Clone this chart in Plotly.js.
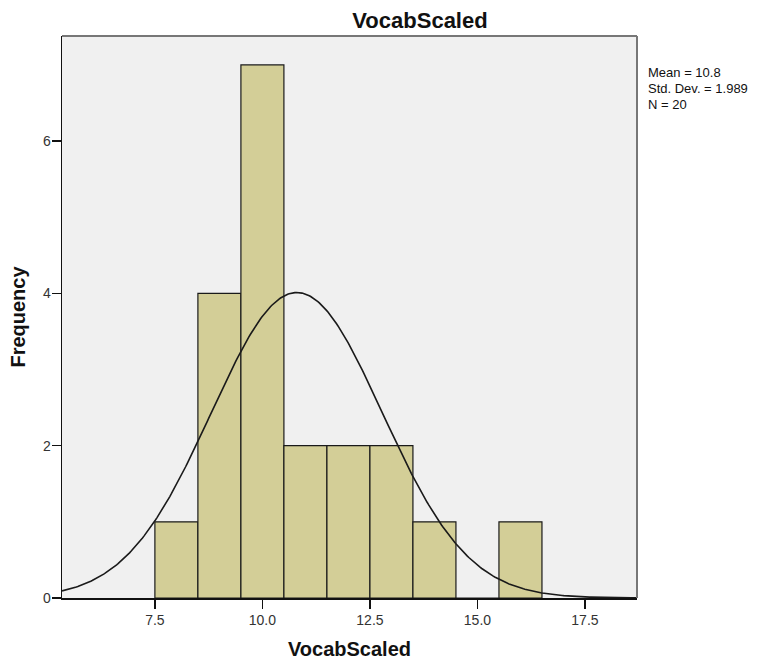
<!DOCTYPE html>
<html>
<head>
<meta charset="utf-8">
<script src="https://cdn.plot.ly/plotly-3.0.1.min.js"></script>
<style>html,body{margin:0;padding:0;background:#fff;}#chart{width:762px;height:662px;}</style>
</head>
<body>
<div id="chart"></div>
<script>
// Histogram bins (centers) and frequencies
const binCenters = [8, 9, 10, 11, 12, 13, 14, 15, 16];
const frequencies = [1, 4, 7, 2, 2, 2, 1, 0, 1];
const binWidth = 1;
// Summary statistics shown in the chart
const meanVal = 10.8;
const stdDev = 1.989;
const nVal = 20;
const statLines = ['Mean = 10.8', 'Std. Dev. = 1.989', 'N = 20'];
const xTickVals = [7.5, 10.0, 12.5, 15.0, 17.5];
const xTickText = ['7.5', '10.0', '12.5', '15.0', '17.5'];
const yTickVals = [0, 2, 4, 6];

const xRange = [5.34, 18.71];

// Fitted normal curve from the stated mean / std dev / N
const curveX = [];
const curveY = [];
for (let i = 0; i <= 400; i++) {
  const x = xRange[0] + (xRange[1] - xRange[0]) * i / 400;
  const z = (x - meanVal) / stdDev;
  curveX.push(x);
  curveY.push(nVal * binWidth * Math.exp(-0.5 * z * z) / (stdDev * Math.sqrt(2 * Math.PI)));
}

const FONT = 'Liberation Sans, Arial, sans-serif';

const data = [
  {
    type: 'bar',
    x: binCenters,
    y: frequencies,
    width: binWidth,
    marker: {color: '#D3CE97', line: {color: '#1a1a1a', width: 1.2}},
    hoverinfo: 'x+y'
  },
  {
    type: 'scatter',
    mode: 'lines',
    x: curveX,
    y: curveY,
    line: {color: '#1a1a1a', width: 1.6},
    hoverinfo: 'skip'
  }
];

const plotH = 662 - 36 - 64;
const statAnnotations = statLines.map((t, i) => ({
  xref: 'paper', yref: 'paper', x: 1.017, y: 1 - (37 + i * 15.5) / plotH,
  xanchor: 'left', yanchor: 'middle', align: 'left', showarrow: false,
  borderpad: 0,
  text: t,
  font: {family: FONT, size: 13, color: '#111'}
}));

const layout = {
  width: 762,
  height: 662,
  margin: {l: 62, r: 125, t: 36, b: 64},
  paper_bgcolor: '#ffffff',
  plot_bgcolor: '#F0F0F0',
  showlegend: false,
  bargap: 0,
  title: {
    text: '<b>VocabScaled</b>',
    font: {family: FONT, size: 22, color: '#111'},
    x: 420 / 762, xanchor: 'center', xref: 'container',
    y: 1 - 20 / 662, yanchor: 'middle', yref: 'container'
  },
  xaxis: {
    range: xRange,
    tickvals: xTickVals,
    ticktext: xTickText,
    ticks: 'outside',
    ticklen: 9,
    tickwidth: 1.5,
    tickcolor: '#111',
    showline: true,
    linecolor: '#111',
    linewidth: 1.5,
    showgrid: false,
    zeroline: false,
    tickfont: {family: FONT, size: 14, color: '#333'},
    title: {text: '<b>VocabScaled</b>', font: {family: FONT, size: 20, color: '#111'}, standoff: 14}
  },
  yaxis: {
    range: [0, 7.38],
    tickvals: yTickVals,
    ticks: 'outside',
    ticklen: 9,
    tickwidth: 1.5,
    tickcolor: '#111',
    showline: true,
    linecolor: '#111',
    linewidth: 1.5,
    showgrid: false,
    zeroline: false,
    ticklabelstandoff: -2,
    tickfont: {family: FONT, size: 14, color: '#333'},
    title: {text: '<b>Frequency</b>', font: {family: FONT, size: 20, color: '#111'}, standoff: 12}
  },
  shapes: [
    {type: 'line', xref: 'paper', yref: 'paper', x0: 0, x1: 1, y0: 1, y1: 1, line: {color: '#777', width: 2}},
    {type: 'line', xref: 'paper', yref: 'paper', x0: 1, x1: 1, y0: 0, y1: 1, line: {color: '#777', width: 2}}
  ],
  annotations: statAnnotations
};

Plotly.newPlot('chart', data, layout, {displayModeBar: false, staticPlot: true});
</script>
</body>
</html>
